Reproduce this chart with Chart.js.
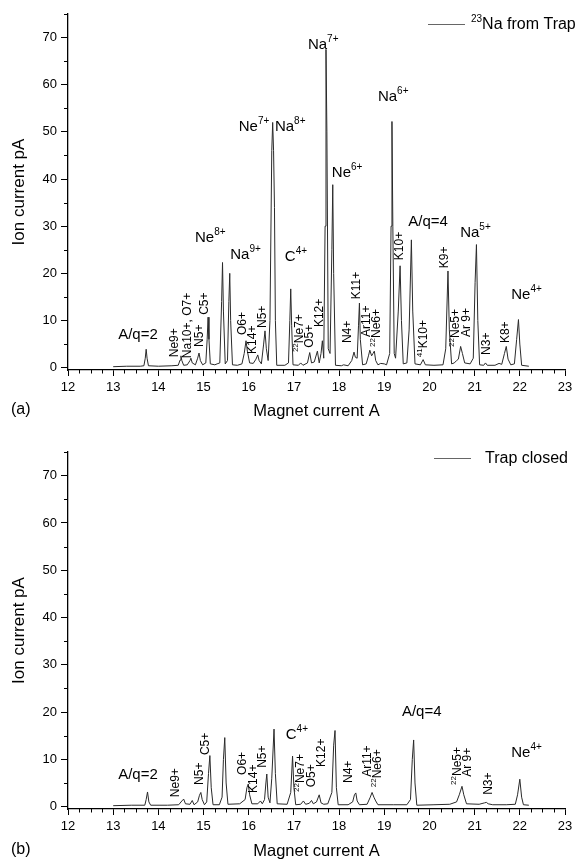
<!DOCTYPE html>
<html><head><meta charset="utf-8">
<script src="https://cdn.jsdelivr.net/npm/chart.js@4.4.1/dist/chart.umd.min.js"></script>
<style>
html,body{margin:0;padding:0;background:#fff;overflow:hidden;width:581px;height:861px;}
#wa{position:absolute;left:0;top:0;width:581px;height:430px;}
#wb{position:absolute;left:0;top:430px;width:581px;height:431px;}
</style></head><body>
<div id="wa"><canvas id="ca"></canvas></div>
<div id="wb"><canvas id="cb"></canvas></div>
<script>
// ---- axis ticks ----
const xMin = 12, xMax = 23, xStep = 1, xMinorStep = 0.25;
const yMin = -0.5, yMax = 75, yStep = 10, yMinorStep = 5;

// ---- panel (a): 23Na from Trap ----
const xa = [13.00,13.30,13.60,13.68,13.71,13.73,13.75,13.78,14.00,14.30,14.44,14.48,14.50,14.52,14.56,14.64,14.70,14.72,14.75,14.82,
14.87,14.90,14.93,14.98,15.05,15.08,15.10,15.12,15.15,15.25,15.30,15.36,15.40,15.42,15.44,15.48,15.53,15.56,15.58,15.60,
15.64,15.75,15.85,15.90,15.94,15.97,16.02,16.10,16.16,16.20,16.23,16.28,16.33,16.36,16.39,16.43,16.47,16.51,16.53,16.55,
16.57,16.59,16.62,16.80,16.88,16.91,16.93,16.95,16.98,17.10,17.15,17.20,17.30,17.35,17.39,17.45,17.52,17.56,17.60,17.63,
17.66,17.69,17.71,17.73,17.76,17.80,17.84,17.86,17.88,17.92,18.05,18.10,18.20,18.28,18.33,18.36,18.40,18.43,18.45,18.47,
18.52,18.60,18.65,18.68,18.72,18.75,18.78,18.81,18.86,18.92,19.00,19.05,19.12,19.15,19.17,19.19,19.22,19.25,19.31,19.35,
19.38,19.42,19.50,19.55,19.60,19.63,19.68,19.80,19.86,19.91,20.10,20.30,20.36,20.41,20.44,20.49,20.55,20.60,20.64,20.69,
20.73,20.78,20.90,20.97,21.01,21.04,21.07,21.11,21.20,21.24,21.28,21.45,21.54,21.60,21.66,21.70,21.74,21.80,21.88,21.93,
21.97,22.00,22.04,22.20];
const ya = [0.2,0.3,0.3,0.4,2.0,3.9,2.0,0.4,0.3,0.4,0.5,1.6,2.5,1.5,0.5,0.6,1.5,2.0,1.0,0.6,
2.0,3.1,1.5,0.6,1.0,6.0,10.7,6.0,0.8,0.6,0.8,1.0,14.0,22.3,12.0,0.8,1.5,14.0,20.0,10.0,
0.6,0.5,0.8,3.0,5.7,3.5,1.0,0.9,1.8,2.7,1.5,0.8,5.0,7.8,4.0,1.5,10.0,46.0,52.0,46.0,
34.0,10.0,0.5,0.5,1.0,10.0,16.7,9.0,0.6,0.5,1.0,0.5,1.0,3.2,1.0,1.2,3.5,1.0,3.0,5.7,
2.0,30.0,67.5,50.0,4.0,3.0,25.0,38.8,20.0,0.5,0.4,0.6,0.4,1.5,3.3,2.2,2.0,9.0,13.7,6.0,
0.6,0.8,2.5,3.7,2.5,3.0,3.5,1.5,0.6,0.9,0.8,0.6,3.0,30.0,52.2,30.0,3.0,2.0,12.0,21.6,
10.0,0.8,1.0,8.0,27.1,12.0,0.8,0.6,1.7,0.6,0.5,0.6,4.0,20.5,8.0,0.8,1.0,1.5,1.8,4.5,
3.0,1.0,0.8,2.0,18.0,26.1,10.0,0.6,0.5,1.0,0.5,0.5,0.9,0.7,3.0,4.5,1.8,0.6,0.8,6.0,
10.2,5.0,0.5,0.3];

// ---- panel (b): Trap closed ----
const xb = [13.00,13.40,13.70,13.73,13.76,13.79,13.83,14.20,14.45,14.52,14.56,14.60,14.70,14.75,14.79,14.87,14.91,14.94,14.97,15.02,
15.07,15.11,15.14,15.17,15.21,15.35,15.41,15.44,15.47,15.50,15.54,15.80,15.92,15.96,15.99,16.02,16.07,16.20,16.26,16.30,
16.35,16.38,16.40,16.43,16.47,16.51,16.56,16.59,16.63,16.85,16.93,16.97,17.00,17.04,17.15,17.21,17.26,17.34,17.39,17.43,
17.50,17.56,17.60,17.66,17.75,17.84,17.88,17.91,17.94,17.98,18.20,18.30,18.34,18.37,18.40,18.45,18.62,18.69,18.73,18.77,
18.81,18.86,19.20,19.50,19.58,19.62,19.65,19.68,19.72,20.10,20.45,20.60,20.66,20.72,20.76,20.82,21.10,21.22,21.26,21.30,
21.40,21.70,21.90,21.95,22.00,22.04,22.08,22.20];
const yb = [0.2,0.3,0.3,1.5,3.1,1.0,0.3,0.3,0.4,1.2,1.6,0.6,0.5,1.3,0.4,1.0,2.4,3.0,1.5,0.4,
1.0,7.0,10.8,4.0,0.4,0.4,2.0,10.0,14.6,5.0,0.5,0.6,1.5,4.0,4.8,2.5,0.6,0.6,1.2,0.6,
1.5,5.0,6.9,2.0,0.8,6.0,16.4,7.0,0.6,0.5,3.0,10.7,4.0,0.4,0.5,1.2,0.5,0.7,1.3,0.6,
1.0,2.5,0.8,0.5,0.6,3.0,13.0,16.1,4.0,0.4,0.4,1.0,2.5,2.9,1.2,0.4,0.5,2.0,3.0,2.0,
1.2,0.4,0.4,0.4,1.5,10.0,14.1,5.0,0.3,0.4,0.5,1.0,2.5,4.3,2.5,0.6,0.5,0.8,0.9,0.6,
0.4,0.4,0.5,2.5,5.8,2.0,0.4,0.3];

// ---- peak annotations: [text, x (A), y (pA), vertical] ----
const labelsA = [
 ['A/q=2',13.11,6.9,0],['Ne^{8+}',14.81,27.5,0],['Na^{9+}',15.59,23.9,0],['C^{4+}',16.80,23.5,0],
 ['Ne^{7+}',15.78,51.0,0],['Na^{8+}',16.58,51.0,0],['Na^{7+}',17.31,68.4,0],['Ne^{6+}',17.84,41.3,0],
 ['Na^{6+}',18.86,57.4,0],['A/q=4',19.53,30.9,0],['Na^{5+}',20.68,28.5,0],['Ne^{4+}',21.81,15.4,0],
 ['Ne9+',14.37,2.2,1],['Na10+, O7+',14.66,2.0,1],['N5+',14.92,4.4,1],['C5+',15.03,11.2,1],
 ['O6+',15.87,6.9,1],['K14+',16.09,2.9,1],['N5+',16.32,8.4,1],['^{22}Ne7+',17.13,3.3,1],
 ['O5+',17.36,4.2,1],['K12+',17.58,8.6,1],['N4+',18.20,5.2,1],['K11+',18.40,14.5,1],
 ['Ar11+',18.60,6.5,1],['^{22}Ne6+',18.84,4.4,1],['K10+',19.35,22.8,1],['^{41}K10+',19.88,2.2,1],
 ['K9+',20.34,21.1,1],['^{22}Ne5+',20.59,4.4,1],['Ar 9+',20.83,6.5,1],['N3+',21.27,2.7,1],['K8+',21.69,5.2,1]
];
const labelsB = [
 ['A/q=2',13.11,6.7,0],['C^{4+}',16.82,15.1,0],['A/q=4',19.39,20.0,0],['Ne^{4+}',21.81,11.3,0],
 ['Ne9+',14.39,2.0,1],['N5+',14.92,4.6,1],['C5+',15.05,10.9,1],['O6+',15.87,6.7,1],
 ['K14+',16.12,2.9,1],['N5+',16.32,8.2,1],['^{22}Ne7+',17.16,3.1,1],['O5+',17.40,4.1,1],
 ['K12+',17.62,8.4,1],['N4+',18.22,5.0,1],['Ar11+',18.64,6.3,1],['^{22}Ne6+',18.86,4.1,1],
 ['^{22}Ne5+',20.63,4.6,1],['Ar 9+',20.85,6.3,1],['N3+',21.30,2.5,1]
];
const legendA = '^{23}Na from Trap';
const legendB = 'Trap closed';

const FONT = '"Liberation Sans", Arial, Helvetica, sans-serif';

function drawRuns(ctx, text, size, supSize, rise){
  const parts = text.split(/(\^\{[^}]*\})/).filter(s => s.length);
  let x = 0;
  for (const p of parts){
    if (p.startsWith('^{')){
      const t = p.slice(2,-1);
      ctx.font = supSize + 'px ' + FONT;
      ctx.fillText(t, x, -rise);
      x += ctx.measureText(t).width;
    } else {
      ctx.font = size + 'px ' + FONT;
      ctx.fillText(p, x, 0);
      x += ctx.measureText(p).width;
    }
  }
}

const annoPlugin = {
  id: 'anno',
  afterDraw(chart, args, o){
    const ctx = chart.ctx, xs = chart.scales.x, ys = chart.scales.y;
    ctx.save();
    // minor ticks
    ctx.strokeStyle = '#000'; ctx.lineWidth = 1;
    ctx.beginPath();
    for (let v = xMin; v <= xMax + 1e-9; v += xMinorStep){
      if (Math.abs(v - Math.round(v)) < 1e-6) continue;
      const px = Math.round(xs.getPixelForValue(v)) + 0.5;
      ctx.moveTo(px, ys.bottom); ctx.lineTo(px, ys.bottom + 3.5);
    }
    for (let v = yMinorStep; v <= yMax + 1e-9; v += yMinorStep){
      if (Math.abs(v/10 - Math.round(v/10)) < 1e-6) continue;
      const py = Math.round(ys.getPixelForValue(v)) + 0.5;
      ctx.moveTo(xs.left, py); ctx.lineTo(xs.left - 4, py);
    }
    ctx.stroke();
    // labels
    ctx.fillStyle = '#000'; ctx.textBaseline = 'middle'; ctx.textAlign = 'left';
    for (const [t, x, y, vert] of o.labels){
      const px = xs.getPixelForValue(x), py = ys.getPixelForValue(y);
      ctx.save();
      ctx.translate(px, py);
      if (vert){ ctx.rotate(-Math.PI/2); drawRuns(ctx, t, 12, 8, 4); }
      else { drawRuns(ctx, t, 15, 10, 6); }
      ctx.restore();
    }
    // legend
    ctx.strokeStyle = '#666'; ctx.lineWidth = 1;
    ctx.beginPath(); ctx.moveTo(o.lx0, o.ly + 0.5); ctx.lineTo(o.lx1, o.ly + 0.5); ctx.stroke();
    ctx.save(); ctx.translate(o.ltx, o.ly + 1); drawRuns(ctx, o.legend, 16, 10, 6); ctx.restore();
    // panel tag
    ctx.font = '16px ' + FONT;
    ctx.fillText(o.tag, 11, o.tagY);
    ctx.restore();
  }
};

function makeChart(id, xs, ys, opts){
  return new Chart(document.getElementById(id), {
    type: 'line',
    data: { datasets: [{ data: xs.map((x,i) => ({x, y: ys[i]})), borderColor: '#2a2a2a', borderWidth: 1,
      pointRadius: 0, tension: 0, fill: false }] },
    options: {
      responsive: true, maintainAspectRatio: false, animation: false,
      layout: { padding: { left: 0, right: 16, top: opts.top, bottom: 0 } },
      plugins: { legend: { display: false }, tooltip: { enabled: false }, anno: opts.anno },
      scales: {
        x: { type: 'linear', min: xMin, max: xMax,
          ticks: { stepSize: xStep, autoSkip: false, maxRotation: 0, color: '#000', padding: 4,
            font: { size: 13, family: FONT } },
          grid: { drawOnChartArea: false, drawTicks: true, tickLength: 6, color: '#000', lineWidth: 1 },
          border: { display: true, color: '#000', width: 1.3 },
          title: { display: true, text: 'Magnet current A', color: '#000', font: { size: 16.5, family: FONT },
            padding: { top: 0, bottom: opts.titlePad } },
          afterFit: s => { s.height = opts.xh; } },
        y: { type: 'linear', min: yMin, max: yMax,
          ticks: { stepSize: yStep, includeBounds: false, color: '#000', padding: 4,
            font: { size: 13, family: FONT } },
          grid: { drawOnChartArea: false, drawTicks: true, tickLength: 7, color: '#000', lineWidth: 1 },
          border: { display: true, color: '#000', width: 1.3 },
          title: { display: true, text: 'Ion current pA', color: '#000', font: { size: 17, family: FONT },
            padding: { top: 9, bottom: 0 } },
          afterFit: s => { s.width = 68; } }
      }
    },
    plugins: [annoPlugin]
  });
}

makeChart('ca', xa, ya, { top: 14, xh: 60, titlePad: 9,
  anno: { labels: labelsA, legend: legendA, lx0: 428, lx1: 465, ly: 24, ltx: 471, tag: '(a)', tagY: 410 } });
makeChart('cb', xb, yb, { top: 22, xh: 52, titlePad: 0,
  anno: { labels: labelsB, legend: legendB, lx0: 434, lx1: 471, ly: 28, ltx: 485, tag: '(b)', tagY: 420 } });
</script>
</body></html>
